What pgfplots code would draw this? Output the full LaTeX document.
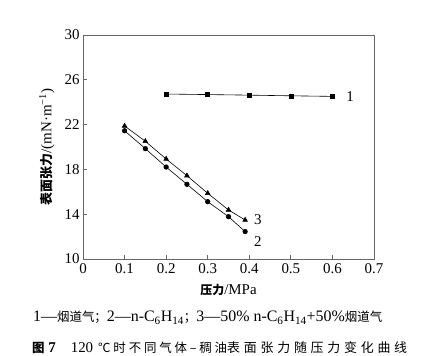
\documentclass[border=0pt]{standalone}
\usepackage{pgfplots}
\pgfplotsset{compat=1.18}
\usepackage{fontspec}
\setmainfont{Liberation Serif}
\newfontfamily\cjk{Noto Sans CJK SC}
\newcommand{\zh}[2][11]{{\fontsize{#1}{#1}\cjk #2}}
\begin{document}
\begin{tikzpicture}[x=1bp,y=1bp]
\path[use as bounding box] (0,0) rectangle (428,356);
\begin{axis}[
  at={(83bp,97bp)}, anchor=south west,
  scale only axis, width=291bp, height=224bp,
  xmin=0, xmax=0.7, ymin=10, ymax=30,
  xtick={0,0.1,...,0.7}, ytick={10,14,18,22,26,30},
  xticklabels={0,0.1,0.2,0.3,0.4,0.5,0.6,0.7},
  tick align=inside, tick pos=left,
  major tick length=4bp,
  axis line style={gray!80!black, line width=0.9pt},
  tick style={gray!80!black, line width=0.9pt},
  ticklabel style={font=\fontsize{15}{16}\selectfont},
  xticklabel style={yshift=-1pt},
  /pgf/number format/assume math mode=true,
  xlabel={\zh[12]{\bfseries 压力}/MPa},
  ylabel={\zh[13]{\bfseries 表面张力}/(mN·m\textsuperscript{−1})},
  label style={font=\fontsize{15}{16}\selectfont},
  xlabel style={at={(axis description cs:0.5,-0.138)}, anchor=center},
  ylabel style={at={(axis description cs:-0.124,0.5)}, anchor=center},
]
\addplot[black, line width=0.6pt, mark=square*, mark options={fill=black, solid}, mark size=2pt] coordinates {
 (0.2,24.73) (0.3,24.68) (0.4,24.63) (0.5,24.57) (0.6,24.52)};
\addplot[black, line width=0.6pt, mark=*, mark options={fill=black, solid}, mark size=2.3pt] coordinates {
 (0.1,21.45) (0.15,19.85) (0.2,18.21) (0.25,16.67) (0.3,15.12) (0.35,13.78) (0.39,12.45)};
\addplot[black, line width=0.6pt, mark=triangle*, mark options={fill=black, solid}, mark size=2.7pt] coordinates {
 (0.1,21.88) (0.15,20.51) (0.2,18.93) (0.25,17.44) (0.3,15.87) (0.35,14.38) (0.39,13.48)};
\node[anchor=west, font=\fontsize{15}{16}\selectfont] at (axis cs:0.625,24.46) {1};
\node[anchor=west, font=\fontsize{15}{16}\selectfont] at (axis cs:0.403,13.5) {3};
\node[anchor=west, font=\fontsize{15}{16}\selectfont] at (axis cs:0.403,11.6) {2};
\end{axis}
\node[anchor=west, inner sep=0pt, font=\fontsize{16}{17}\selectfont] at (33,38) {1—\zh[12.5]{烟道气；}2—n-C\textsubscript{6}H\textsubscript{14}\zh[12.5]{；}3—50\% n-C\textsubscript{6}H\textsubscript{14}+50\%\zh[12.5]{烟道气}};
\node[anchor=west, inner sep=0pt, font=\fontsize{15}{16}\selectfont] at (32,8) {\makebox[66bp][l]{\zh[12.5]{\bfseries 图} \textbf{7}\quad 120}\makebox[129bp][s]{\zh[12.5]{℃}\hfill\zh[12.5]{时}\hfill\zh[12.5]{不}\hfill\zh[12.5]{同}\hfill\zh[12.5]{气}\hfill\zh[12.5]{体}\hfill\zh[12.5]{–}\hfill\zh[12.5]{稠}\hfill\zh[12.5]{油}}\makebox[180bp][s]{\zh[13]{表}\hfill\zh[13]{面}\hfill\zh[13]{张}\hfill\zh[13]{力}\hfill\zh[13]{随}\hfill\zh[13]{压}\hfill\zh[13]{力}\hfill\zh[13]{变}\hfill\zh[13]{化}\hfill\zh[13]{曲}\hfill\zh[13]{线}}};
\end{tikzpicture}
\end{document}
